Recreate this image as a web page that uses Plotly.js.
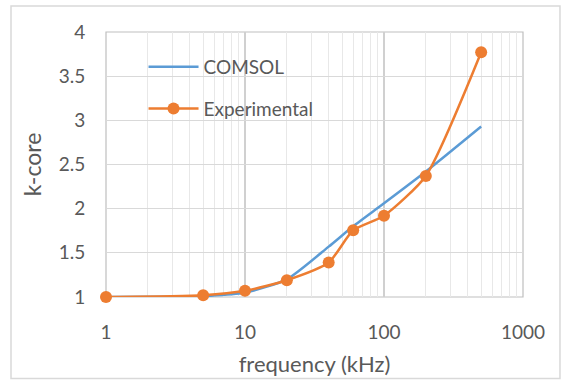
<!DOCTYPE html>
<html>
<head>
<meta charset="utf-8">
<script src="https://cdn.plot.ly/plotly-3.0.1.min.js"></script>
<style>
html,body{margin:0;padding:0;background:#fff;}
#chart{width:564px;height:380px;}
</style>
</head>
<body>
<div id="chart"></div>
<script>
const frequency = [1, 5, 10, 20, 40, 60, 100, 200, 500];
const comsol = [1.0, 1.01, 1.05, 1.2, 1.57, 1.8, 2.06, 2.42, 2.93];
const experimental = [1.0, 1.02, 1.07, 1.19, 1.39, 1.755, 1.92, 2.37, 3.77];
const yTicks = [1, 1.5, 2, 2.5, 3, 3.5, 4];
const yTickText = ['1', '1.5', '2', '2.5', '3', '3.5', '4'];
const xTicks = [1, 10, 100, 1000];
const xTickText = ['1', '10', '100', '1000'];

const FONT = 'Lato, "Open Sans", sans-serif';
const GRAY = '#595959';

const traces = [
  {
    x: frequency, y: comsol, name: 'COMSOL', type: 'scatter', mode: 'lines',
    line: {color: '#5b9bd5', width: 2.5, shape: 'spline', smoothing: 0.6},
    legendgroup: 'a', cliponaxis: false
  },
  {
    x: frequency, y: experimental, name: 'Experimental', type: 'scatter', mode: 'lines+markers',
    line: {color: '#ed7d31', width: 2.5, shape: 'spline', smoothing: 0.6},
    marker: {color: '#ed7d31', size: 12},
    legendgroup: 'b', cliponaxis: false
  }
];

const layout = {
  width: 564, height: 380,
  margin: {l: 106, r: 41, t: 32, b: 83},
  paper_bgcolor: '#ffffff', plot_bgcolor: '#ffffff',
  font: {family: FONT, color: GRAY, size: 19},
  showlegend: true,
  legend: {
    x: 0.09, y: 0.94, xanchor: 'left', yanchor: 'top',
    bgcolor: 'rgba(0,0,0,0)', borderwidth: 0,
    font: {family: FONT, size: 19, color: GRAY},
    traceorder: 'grouped', tracegroupgap: 14, itemwidth: 50
  },
  xaxis: {
    type: 'log', range: [0, 3],
    tickmode: 'array', tickvals: xTicks, ticktext: xTickText,
    showgrid: true, gridcolor: '#d0d0d0', gridwidth: 1.2,
    minor: {tickmode: 'array', tickvals: [2,3,4,5,6,7,8,9,20,30,40,50,60,70,80,90,200,300,400,500,600,700,800,900], showgrid: true, gridcolor: '#e8e8e8', gridwidth: 1, ticks: ''},
    ticks: 'outside', ticklen: 18, tickcolor: 'rgba(0,0,0,0)',
    showline: false, zeroline: false,
    tickfont: {family: FONT, size: 19, color: GRAY},
    title: {text: 'frequency (kHz)', font: {family: FONT, size: 22, color: GRAY}, standoff: 14}
  },
  yaxis: {
    range: [1, 4],
    tickmode: 'array', tickvals: yTicks, ticktext: yTickText,
    showgrid: true, gridcolor: '#d9d9d9', gridwidth: 1.2,
    ticks: 'outside', ticklen: 16, tickcolor: 'rgba(0,0,0,0)',
    showline: false, zeroline: false,
    tickfont: {family: FONT, size: 19, color: GRAY},
    title: {text: 'k-core', font: {family: FONT, size: 23, color: GRAY}, standoff: 10}
  },
  shapes: [
    {type: 'rect', xref: 'paper', yref: 'paper', x0: 0.041, x1: 0.549, y0: 0.630, y1: 0.951,
     fillcolor: '#ffffff', line: {width: 0}, layer: 'between'},
    {type: 'rect', xref: 'paper', yref: 'paper', x0: 0, x1: 1, y0: 0, y1: 1,
     fillcolor: 'rgba(0,0,0,0)', line: {color: '#bfbfbf', width: 1.2}, layer: 'between'},
    {type: 'rect', xref: 'paper', yref: 'paper', x0: -0.2278, x1: 1.0887, y0: -0.3075, y1: 1.098,
     fillcolor: 'rgba(0,0,0,0)', line: {color: '#d9d9d9', width: 1.5}, layer: 'above'}
  ]
};

Plotly.newPlot('chart', traces, layout, {staticPlot: true, displayModeBar: false});
</script>
</body>
</html>
